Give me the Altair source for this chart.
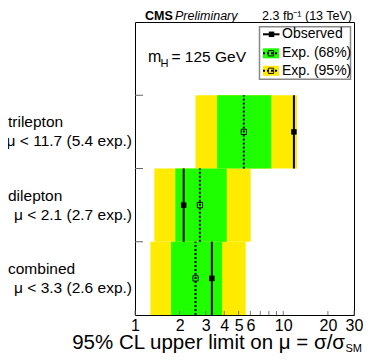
import altair as alt
import pandas as pd

# ---- data ----
categories = ["combined", "dilepton", "trilepton"]
limit_texts = ["μ < 3.3 (2.6 exp.)", "μ < 2.1 (2.7 exp.)", "μ < 11.7 (5.4 exp.)"]
observed = [3.3, 2.13, 11.8]
expected = [2.56, 2.74, 5.42]
lo68 = [1.75, 1.87, 3.58]
hi68 = [3.87, 4.16, 8.31]
lo95 = [1.27, 1.35, 2.56]
hi95 = [5.58, 6.03, 12.37]
x_tick_labels = [1, 2, 3, 4, 5, 6, 10, 20, 30]
x_ticks = [1, 2, 3, 4, 5, 6, 7, 8, 9, 10, 20, 30]
row_edges = [1, 2, 3]
legend_labels = ["Observed", "Exp. (68%)", "Exp. (95%)"]

W, H = 219, 293
FONT = "Liberation Sans"
YELLOW = "#ffeb00"
GREEN = "#1eff00"

rows = list(range(len(categories)))
df = pd.DataFrame({
    "category": categories,
    "limit": limit_texts,
    "row": rows,
    "row1": [r + 1 for r in rows],
    "rowc": [r + 0.5 for r in rows],
    "name_y": [r + 0.63 for r in rows],
    "lim_y": [r + 0.37 for r in rows],
    "observed": observed,
    "expected": expected,
    "lo68": lo68, "hi68": hi68,
    "lo95": lo95, "hi95": hi95,
})

xscale = alt.Scale(type="log", domain=[1, 30], nice=False)
xaxis = alt.Axis(values=x_tick_labels, format="~g", ticks=False, domain=False,
                 grid=False, labelFontSize=16, labelFont=FONT, labelColor="black",
                 labelPadding=2, labelOverlap=False, labelFlush=False, title=None)
yscale = alt.Scale(domain=[0, 4], nice=False, zero=False)


def X(f):
    return alt.X(f, type="quantitative", scale=xscale, axis=xaxis, title=None)


def Y(f):
    return alt.Y(f, type="quantitative", scale=yscale, axis=None, title=None)


base = alt.Chart(df)
one = alt.Chart(pd.DataFrame({"a": [0]}))

band95 = base.mark_rect(color=YELLOW).encode(x=X("lo95"), x2="hi95", y=Y("row"), y2="row1")
band68 = base.mark_rect(color=GREEN).encode(x=X("lo68"), x2="hi68", y=Y("row"), y2="row1")
exp_line = base.mark_rule(color="black", strokeWidth=2, strokeDash=[2, 2]).encode(
    x=X("expected"), y=Y("row"), y2="row1")
obs_line = base.mark_rule(color="black", strokeWidth=2).encode(
    x=X("observed"), y=Y("row"), y2="row1")
exp_pt = base.mark_point(shape="square", size=28, filled=False, stroke="#111",
                         strokeWidth=1, opacity=1).encode(x=X("expected"), y=Y("rowc"))
obs_pt = base.mark_point(shape="square", size=30, filled=True, color="black",
                         opacity=1).encode(x=X("observed"), y=Y("rowc"))

names = base.mark_text(align="left", baseline="middle", font=FONT, fontSize=15.5,
                       color="black").encode(x=alt.value(-127), y=Y("name_y"),
                                             text="category:N")
limits = base.mark_text(align="right", baseline="middle", font=FONT, fontSize=15.5,
                        color="black").encode(x=alt.value(-3), y=Y("lim_y"),
                                              text="limit:N")

ydf = pd.DataFrame({"e": row_edges})
yticks = alt.Chart(ydf).mark_rule(color="#666", strokeWidth=1).encode(
    y=Y("e"), x=alt.value(0), x2=alt.value(8))

tdf = pd.DataFrame({"t": x_ticks})
xticks = alt.Chart(tdf).mark_rule(color="#777", strokeWidth=1).encode(
    x=X("t"), y=alt.value(H), y2=alt.value(H - 4))


def txt(text, x, y, size, align="left", baseline="alphabetic", weight="normal",
        style="normal"):
    return one.mark_text(text=text, align=align, baseline=baseline, font=FONT,
                         fontSize=size, fontWeight=weight, fontStyle=style,
                         color="black").encode(x=alt.value(x), y=alt.value(y))


header = [
    txt("CMS", 10, -2.5, 12.5, weight="bold"),
    txt("Preliminary", 40, -2.5, 12.5, style="italic"),
    txt("2.3 fb⁻¹ (13 TeV)", 217, -2.5, 12.5, align="right"),
    txt("m", 13, 40, 16),
    txt("H", 25.5, 44.5, 11),
    txt("= 125 GeV", 36.5, 40, 15.5),
    txt("95% CL upper limit on μ = σ/σ", 210, 326.5, 20.5, align="right"),
    txt("SM", 210.5, 330, 11),
]

# legend (drawn by hand, like the ROOT TLegend)
LX = 124.5
leg_box = one.mark_rect(fill="white", stroke="#888", strokeWidth=1.5).encode(
    x=alt.value(LX), x2=alt.value(LX + 91), y=alt.value(4.7), y2=alt.value(57.3))
leg_items = []
ys = [12.3, 31.3, 48.8]
leg_items.append(one.mark_rule(color="black", strokeWidth=2).encode(
    x=alt.value(LX + 3.5), x2=alt.value(LX + 20), y=alt.value(ys[0])))
leg_items.append(one.mark_point(shape="square", size=30, filled=True, color="black",
                                opacity=1).encode(x=alt.value(LX + 12), y=alt.value(ys[0])))
for yc, col in [(ys[1], GREEN), (ys[2], YELLOW)]:
    leg_items.append(one.mark_rect(color=col).encode(
        x=alt.value(LX + 3.5), x2=alt.value(LX + 19.5), y=alt.value(yc - 5),
        y2=alt.value(yc + 5)))
    leg_items.append(one.mark_rule(color="black", strokeWidth=2, strokeDash=[2, 2]).encode(
        x=alt.value(LX + 3.5), x2=alt.value(LX + 19.5), y=alt.value(yc)))
    leg_items.append(one.mark_point(shape="square", size=28, filled=False, stroke="#111",
                                    strokeWidth=1, opacity=1).encode(
        x=alt.value(LX + 11.5), y=alt.value(yc)))
for lab, yc in zip(legend_labels, ys):
    leg_items.append(txt(lab, LX + 22.5, yc, 14, baseline="middle"))

chart = alt.layer(
    band95, band68, exp_line, obs_line, exp_pt, obs_pt, names, limits,
    yticks, xticks, leg_box, *leg_items, *header
).properties(
    width=W, height=H,
    autosize=alt.AutoSizeParams(type="none"),
    padding={"left": 127, "top": 14, "right": 9, "bottom": 40},
).configure_view(stroke="black", strokeWidth=1)

chart.save("out.html", embed_options={"renderer": "svg", "actions": False})
